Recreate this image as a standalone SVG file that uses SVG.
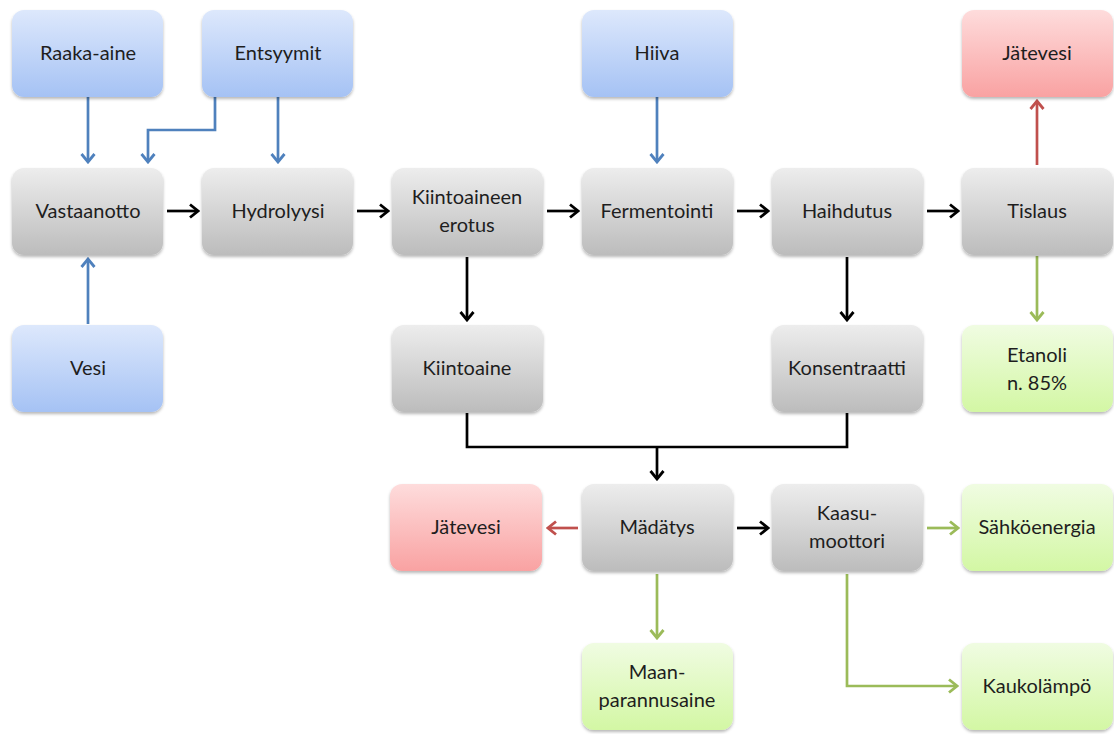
<svg xmlns="http://www.w3.org/2000/svg" width="1114" height="734" viewBox="0 0 1114 734">
  <style>
    .box { stroke: none; filter: url(#shadow); }
    .blue { fill: url(#gBlue); }
    .gray { fill: url(#gGray); }
    .red { fill: url(#gRed); }
    .green { fill: url(#gGreen); }
    text { font-family: Lato, "Liberation Sans", sans-serif; font-size: 20px; fill: #1e1e1e; text-anchor: middle; }
    .c { fill: none; stroke-width: 2.7; }
    .k { stroke: #000; marker-end: url(#aK); }
    .b { stroke: #4f81bd; marker-end: url(#aB); }
    .r { stroke: #c0504d; marker-end: url(#aR); }
    .g { stroke: #9bbb59; marker-end: url(#aG); }
  </style>
  <defs>
    <linearGradient id="gBlue" x1="0" y1="0" x2="0" y2="1">
      <stop offset="0" stop-color="#dde8fc"/>
      <stop offset="1" stop-color="#a5c2f4"/>
    </linearGradient>
    <linearGradient id="gGray" x1="0" y1="0" x2="0" y2="1">
      <stop offset="0" stop-color="#ededed"/>
      <stop offset="1" stop-color="#bcbcbc"/>
    </linearGradient>
    <linearGradient id="gRed" x1="0" y1="0" x2="0" y2="1">
      <stop offset="0" stop-color="#fedcdc"/>
      <stop offset="1" stop-color="#f9a2a2"/>
    </linearGradient>
    <linearGradient id="gGreen" x1="0" y1="0" x2="0" y2="1">
      <stop offset="0" stop-color="#f0fce2"/>
      <stop offset="1" stop-color="#d3f7a4"/>
    </linearGradient>
    <filter id="shadow" x="-10%" y="-10%" width="120%" height="130%">
      <feDropShadow dx="0" dy="2" stdDeviation="1.8" flood-color="#000" flood-opacity="0.28"/>
    </filter>
    <marker id="aK" markerUnits="userSpaceOnUse" viewBox="-11 -8 13 16" markerWidth="13" markerHeight="16" refX="0" refY="0" orient="auto">
      <path d="M-8,-6.5 L0,0 L-8,6.5" fill="none" stroke="#000" stroke-width="2.8"/>
    </marker>
    <marker id="aB" markerUnits="userSpaceOnUse" viewBox="-11 -8 13 16" markerWidth="13" markerHeight="16" refX="0" refY="0" orient="auto">
      <path d="M-8,-6.5 L0,0 L-8,6.5" fill="none" stroke="#4f81bd" stroke-width="2.8"/>
    </marker>
    <marker id="aR" markerUnits="userSpaceOnUse" viewBox="-11 -8 13 16" markerWidth="13" markerHeight="16" refX="0" refY="0" orient="auto">
      <path d="M-8,-6.5 L0,0 L-8,6.5" fill="none" stroke="#c0504d" stroke-width="2.8"/>
    </marker>
    <marker id="aG" markerUnits="userSpaceOnUse" viewBox="-11 -8 13 16" markerWidth="13" markerHeight="16" refX="0" refY="0" orient="auto">
      <path d="M-8,-6.5 L0,0 L-8,6.5" fill="none" stroke="#9bbb59" stroke-width="2.8"/>
    </marker>
  </defs>

  <rect width="1114" height="734" fill="#fff"/>

  <!-- connectors -->
  <g id="connectors">
    <!-- inputs (blue) -->
    <path class="c b" d="M88,97 V162"/>
    <path class="c b" d="M215,97 V130 H148 V162"/>
    <path class="c b" d="M278,97 V162"/>
    <path class="c b" d="M88,324 V259"/>
    <path class="c b" d="M657,97 V162"/>
    <!-- main process line (black) -->
    <path class="c k" d="M167,211 H198"/>
    <path class="c k" d="M357,211 H388"/>
    <path class="c k" d="M547,211 H578"/>
    <path class="c k" d="M737,211 H768"/>
    <path class="c k" d="M927,211 H958"/>
    <path class="c k" d="M467,257 V320"/>
    <path class="c k" d="M847,257 V320"/>
    <path class="c" stroke="#000" d="M467,413 V447 H847 V413"/>
    <path class="c k" d="M657,447 V479"/>
    <path class="c k" d="M737,528 H768"/>
    <!-- waste water (red) -->
    <path class="c r" d="M1037,165 V101"/>
    <path class="c r" d="M578,528 H548"/>
    <!-- products (green) -->
    <path class="c g" d="M1037,256 V320"/>
    <path class="c g" d="M927,528 H958"/>
    <path class="c g" d="M657,574 V638"/>
    <path class="c g" d="M847,574 V686 H957"/>
  </g>

  <!-- row 1 -->
  <g id="raaka-aine">
    <rect class="box blue" x="12" y="10" width="151" height="87" rx="12"/>
    <text x="88" y="60">Raaka-aine</text>
  </g>
  <g id="entsyymit">
    <rect class="box blue" x="202" y="10" width="151" height="87" rx="12"/>
    <text x="278" y="60">Entsyymit</text>
  </g>
  <g id="hiiva">
    <rect class="box blue" x="582" y="10" width="151" height="87" rx="12"/>
    <text x="657" y="60">Hiiva</text>
  </g>
  <g id="jatevesi-1">
    <rect class="box red" x="962" y="10" width="151" height="87" rx="12"/>
    <text x="1037" y="60">Jätevesi</text>
  </g>

  <!-- row 2 -->
  <g id="vastaanotto">
    <rect class="box gray" x="12" y="168" width="151" height="87" rx="12"/>
    <text x="88" y="218">Vastaanotto</text>
  </g>
  <g id="hydrolyysi">
    <rect class="box gray" x="202" y="168" width="151" height="87" rx="12"/>
    <text x="278" y="218">Hydrolyysi</text>
  </g>
  <g id="kiintoaineen-erotus">
    <rect class="box gray" x="392" y="168" width="151" height="87" rx="12"/>
    <text x="467" y="204">Kiintoaineen</text>
    <text x="467" y="232">erotus</text>
  </g>
  <g id="fermentointi">
    <rect class="box gray" x="582" y="168" width="151" height="87" rx="12"/>
    <text x="657" y="218">Fermentointi</text>
  </g>
  <g id="haihdutus">
    <rect class="box gray" x="772" y="168" width="151" height="87" rx="12"/>
    <text x="847" y="218">Haihdutus</text>
  </g>
  <g id="tislaus">
    <rect class="box gray" x="962" y="168" width="151" height="87" rx="12"/>
    <text x="1037" y="218">Tislaus</text>
  </g>

  <!-- row 3 -->
  <g id="vesi">
    <rect class="box blue" x="12" y="325" width="151" height="87" rx="12"/>
    <text x="88" y="375">Vesi</text>
  </g>
  <g id="kiintoaine">
    <rect class="box gray" x="392" y="325" width="151" height="87" rx="12"/>
    <text x="467" y="375">Kiintoaine</text>
  </g>
  <g id="konsentraatti">
    <rect class="box gray" x="772" y="325" width="151" height="87" rx="12"/>
    <text x="847" y="375">Konsentraatti</text>
  </g>
  <g id="etanoli">
    <rect class="box green" x="962" y="325" width="151" height="87" rx="12"/>
    <text x="1037" y="362">Etanoli</text>
    <text x="1037" y="390">n. 85%</text>
  </g>

  <!-- row 4 -->
  <g id="jatevesi-2">
    <rect class="box red" x="390" y="484" width="152" height="87" rx="12"/>
    <text x="466" y="534">Jätevesi</text>
  </g>
  <g id="madatys">
    <rect class="box gray" x="582" y="484" width="151" height="87" rx="12"/>
    <text x="657" y="534">Mädätys</text>
  </g>
  <g id="kaasumoottori">
    <rect class="box gray" x="772" y="484" width="151" height="87" rx="12"/>
    <text x="847" y="520">Kaasu-</text>
    <text x="847" y="548">moottori</text>
  </g>
  <g id="sahkoenergia">
    <rect class="box green" x="962" y="484" width="151" height="87" rx="12"/>
    <text x="1037" y="534">Sähköenergia</text>
  </g>

  <!-- row 5 -->
  <g id="maanparannusaine">
    <rect class="box green" x="582" y="643" width="151" height="87" rx="12"/>
    <text x="657" y="679">Maan-</text>
    <text x="657" y="707">parannusaine</text>
  </g>
  <g id="kaukolampo">
    <rect class="box green" x="962" y="643" width="151" height="87" rx="12"/>
    <text x="1037" y="693">Kaukolämpö</text>
  </g>
</svg>
